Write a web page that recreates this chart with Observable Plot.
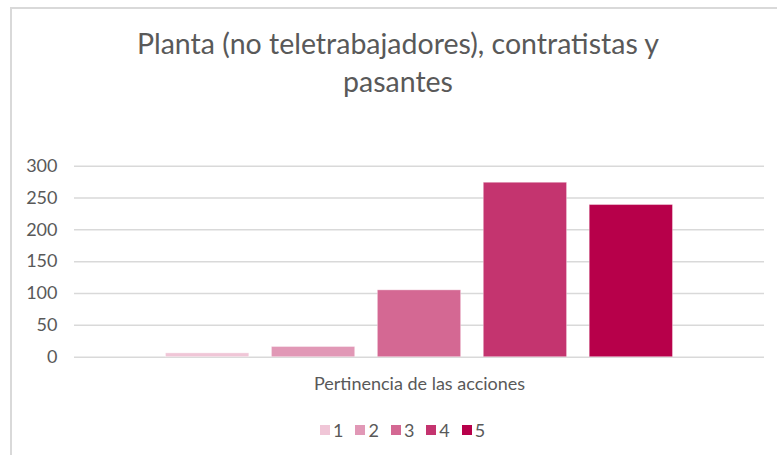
<!DOCTYPE html>
<html>
<head>
<meta charset="utf-8">
<script src="https://cdn.jsdelivr.net/npm/d3@7"></script>
<script src="https://cdn.jsdelivr.net/npm/@observablehq/plot@0.6"></script>
<style>
  body { margin: 0; background: #fff; }
  #c { position: relative; width: 777px; height: 455px; overflow: hidden; background: #fff;
       font-family: Lato, "Open Sans", sans-serif; color: #595959; }
  #frame { position: absolute; left: 10px; top: 7px; right: -5px; bottom: -5px;
           border-left: 2px solid #d9d9d9; border-top: 2px solid #d9d9d9; }
  #title { position: absolute; left: 14px; width: 768px; top: 24px; text-align: center;
           font-size: 28.5px; font-weight: 400; line-height: 38px; color: #595959; }
  #chart { position: absolute; left: 0; top: 150px; }
  #legend { position: absolute; left: 320px; top: 419px; }
  .lg-swatches { font-family: Lato, sans-serif !important; font-size: 18px !important; color: #595959 !important; margin: 0 !important; min-height: 0 !important; }
  .lg-swatch { margin-right: 12px !important; }
  .lg-swatch > svg { margin-right: 3px !important; }
</style>
</head>
<body>
<div id="c">
  <div id="frame"></div>
  <div id="title">Planta (no teletrabajadores), contratistas y<br>pasantes</div>
  <div id="chart"></div>
  <div id="legend"></div>
</div>
<script>
const category = "Pertinencia de las acciones";
const series = ["1", "2", "3", "4", "5"];
const values = [6, 16, 105, 274, 239];
const colors = ["#f0c6d7", "#e198b6", "#d46893", "#c4346f", "#b7004a"];
const yTicks = [0, 50, 100, 150, 200, 250, 300];

const data = series.map((s, i) => ({category, series: s, value: values[i]}));

const chart = Plot.plot({
  width: 777,
  height: 250,
  marginLeft: 74,
  marginRight: 13,
  marginTop: 15.7,
  marginBottom: 43.3,
  style: {fontFamily: "Lato, sans-serif", fontSize: "18px", color: "#595959", background: "transparent"},
  fx: {padding: 0, label: null, tickSize: 0, tickPadding: 20, axis: "bottom"},
  x: {domain: series, paddingInner: 0.214, paddingOuter: 0.864, round: false, axis: null},
  y: {domain: [0, 300], ticks: yTicks, tickSize: 0, tickPadding: 17, label: null},
  color: {domain: series, range: colors},
  marks: [
    Plot.ruleY(yTicks, {stroke: "#d9d9d9", strokeWidth: 1.5}),
    Plot.barY(data, {fx: "category", x: "series", y: "value", fill: "series", stroke: "#ffffff", strokeOpacity: 0.35, strokeWidth: 1})
  ]
});
document.getElementById("chart").appendChild(chart);

const legend = Plot.legend({
  color: {domain: series, range: colors, type: "ordinal"},
  className: "lg",
  swatchSize: 10
});
document.getElementById("legend").appendChild(legend);
</script>
</body>
</html>
